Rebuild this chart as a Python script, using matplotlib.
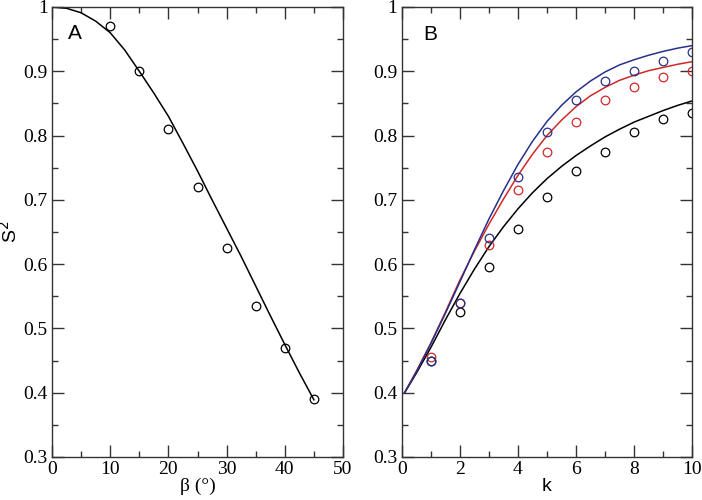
import matplotlib
matplotlib.use('Agg')
import matplotlib.pyplot as plt
from matplotlib.ticker import MultipleLocator, FuncFormatter


# panel A: measured points and fitted curve
beta_pts = [10, 15, 20, 25, 30, 35, 40, 45]
s2_pts = [0.97, 0.90, 0.81, 0.72, 0.625, 0.535, 0.47, 0.39]

beta_fit = [0, 2.5, 5, 7.5, 10, 12.5, 15, 17.5, 20, 22.5, 25, 27.5, 30,
            32.5, 35, 37.5, 40, 42.5, 45]
s2_fit = [1.000, 0.998, 0.991, 0.978, 0.960, 0.933, 0.900, 0.866, 0.830,
          0.788, 0.745, 0.700, 0.656, 0.612, 0.566, 0.520, 0.475, 0.431,
          0.389]

# panel B: points for three series at k = 1..10
k_pts = [1, 2, 3, 4, 5, 6, 7, 8, 9, 10]
black_pts = [0.45, 0.525, 0.595, 0.655, 0.705, 0.745, 0.775, 0.805, 0.826, 0.835]
red_pts = [0.456, 0.54, 0.63, 0.715, 0.775, 0.821, 0.855, 0.875, 0.891, 0.90]
blue_pts = [0.45, 0.54, 0.641, 0.735, 0.806, 0.855, 0.885, 0.90, 0.916, 0.930]

k_fit = [0.1, 0.5, 1, 1.5, 2, 2.5, 3, 3.5, 4, 4.5, 5, 5.5, 6, 6.5, 7, 7.5,
         8, 8.5, 9, 9.5, 10]
black_fit = [0.400, 0.430, 0.470, 0.513, 0.554, 0.592, 0.627, 0.658, 0.686,
             0.711, 0.733, 0.752, 0.769, 0.784, 0.798, 0.810, 0.821, 0.830,
             0.839, 0.847, 0.854]
red_fit = [0.400, 0.433, 0.477, 0.525, 0.575, 0.620, 0.662, 0.701, 0.738,
           0.771, 0.800, 0.824, 0.845, 0.862, 0.875, 0.886, 0.894, 0.901,
           0.906, 0.911, 0.915]
blue_fit = [0.400, 0.432, 0.476, 0.523, 0.572, 0.622, 0.670, 0.714, 0.755,
            0.791, 0.822, 0.847, 0.868, 0.885, 0.899, 0.910, 0.918, 0.925,
            0.931, 0.936, 0.940]

BLUE = '#27308a'
RED = '#d02828'

plt.rcParams['font.family'] = ['Liberation Serif', 'DejaVu Serif']
sans = ['Liberation Sans', 'DejaVu Sans']


def y_fmt(v, pos):
    if abs(v - 1) < 1e-9:
        return '1'
    return '{:.1f}'.format(v)


def style_axis(ax, xmaj, xmin, xmax):
    ax.set_xlim(0, xmax)
    ax.set_ylim(0.3, 1.0)
    ax.xaxis.set_major_locator(MultipleLocator(xmaj))
    ax.xaxis.set_minor_locator(MultipleLocator(xmin))
    ax.yaxis.set_major_locator(MultipleLocator(0.1))
    ax.yaxis.set_minor_locator(MultipleLocator(0.05))
    ax.yaxis.set_major_formatter(FuncFormatter(y_fmt))
    ax.tick_params(which='both', direction='in', top=True, right=True,
                   width=1.0, color='#333333')
    ax.tick_params(which='major', length=8.5, labelsize=14, pad=3)
    ax.tick_params(which='minor', length=4.3)
    for sp in ax.spines.values():
        sp.set_linewidth(1.0)
        sp.set_color('#333333')


fig = plt.figure(figsize=(7.02, 5.0), dpi=100)
axA = fig.add_axes([0.0741, 0.086, 0.4145, 0.90])
axB = fig.add_axes([0.5722, 0.086, 0.414, 0.90])

# panel A
axA.plot(beta_fit, s2_fit, color='black', lw=1.1)
axA.plot(beta_pts, s2_pts, 'o', mfc='none', mec='black', ms=6.2, mew=0.9)
style_axis(axA, 10, 5, 50)
axA.set_xlabel('β (°)', fontsize=14, labelpad=0)
axA.set_ylabel('S$^2$', fontsize=14, family=sans, labelpad=2)
axA.text(0.079, 0.942, 'A', transform=axA.transAxes, fontsize=15,
         family=sans, ha='center', va='center')

# panel B
axB.plot(k_fit, black_fit, color='black', lw=1.1)
axB.plot(k_fit, red_fit, color=RED, lw=1.1)
axB.plot(k_fit, blue_fit, color=BLUE, lw=1.1)
axB.plot(k_pts, black_pts, 'o', mfc='none', mec='black', ms=6.2, mew=0.9)
axB.plot(k_pts, red_pts, 'o', mfc='none', mec=RED, ms=6.2, mew=0.9)
axB.plot(k_pts, blue_pts, 'o', mfc='none', mec=BLUE, ms=6.2, mew=0.9)
style_axis(axB, 2, 1, 10)
axB.set_xlabel('k', fontsize=14, family=sans, labelpad=0)
axB.text(0.097, 0.938, 'B', transform=axB.transAxes, fontsize=15,
         family=sans, ha='center', va='center')

fig.savefig('out.png', dpi=100)
